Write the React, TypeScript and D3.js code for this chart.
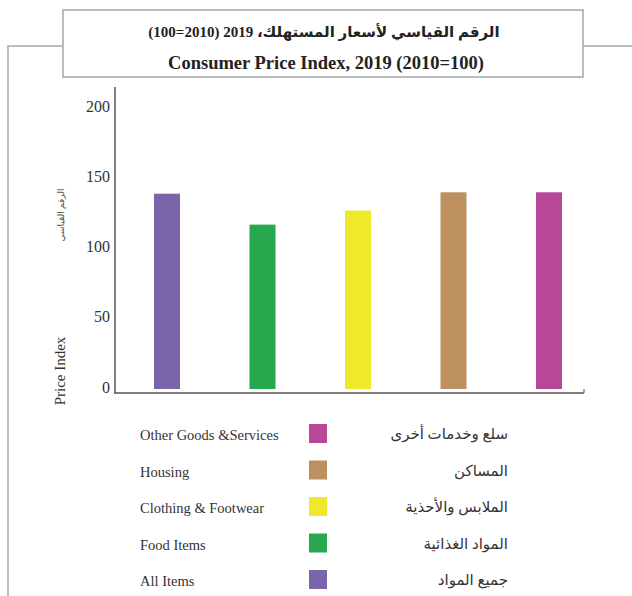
import * as d3 from "d3";

const categories = [
  "All Items",
  "Food Items",
  "Clothing & Footwear",
  "Housing",
  "Other Goods &Services",
];
const arabicNames = [
  "جميع المواد",
  "المواد الغذائية",
  "الملابس والأحذية",
  "المساكن",
  "سلع وخدمات أخرى",
];
const values = [139, 117, 127, 140, 140];
const colors = ["#7a65ab", "#27a84f", "#f0e92a", "#bd9060", "#b8479a"];
const yTicks = [0, 50, 100, 150, 200];

const serif = "'Liberation Serif', 'Times New Roman', 'DejaVu Sans', serif";

export default function App() {
  const width = 632;
  const height = 596;

  const x = d3.scalePoint<string>().domain(categories).range([167, 549]);
  const y = d3.scaleLinear().domain([0, 200]).range([389, 108]);
  const barWidth = 26;

  // legend is listed top-down in reverse category order
  const legendOrder = [...categories].reverse();
  const ly = d3.scalePoint<string>().domain(legendOrder).range([424, 570]);

  const frame = "#a3a8ad";

  return (
    <svg
      width={width}
      height={height}
      style={{ position: "absolute", left: 0, top: 0, background: "#fff" }}
      fontFamily={serif}
    >
      {/* outer frame */}
      <polyline
        points={`8,${height} 8,46 63,46`}
        fill="none"
        stroke={frame}
        strokeWidth={1.5}
      />
      <line x1={583} x2={632} y1={46} y2={46} stroke={frame} strokeWidth={1.5} />

      {/* title box */}
      <rect x={63} y={10} width={520} height={67} fill="#fff" stroke={frame} strokeWidth={1.5} />
      <text
        x={324}
        y={37}
        textAnchor="middle"
        direction="rtl"
        fontSize={15}
        fontWeight="700"
        fill="#222"
      >
        الرقم القياسي لأسعار المستهلك، 2019 (2010=100)
      </text>
      <text x={326} y={69} textAnchor="middle" fontSize={18.5} fontWeight="700" fill="#222">
        Consumer Price Index, 2019 (2010=100)
      </text>

      {/* axes */}
      <line x1={115} x2={115} y1={87} y2={393} stroke="#555" strokeWidth={1.5} />
      <line x1={114} x2={584} y1={393} y2={393} stroke="#555" strokeWidth={1.5} />
      <line x1={584} x2={584} y1={389} y2={393} stroke="#555" strokeWidth={1} />

      {yTicks.map((t) => (
        <text
          key={t}
          x={110}
          y={y(t)}
          textAnchor="end"
          dominantBaseline="middle"
          fontSize={16}
          fill="#333"
        >
          {t}
        </text>
      ))}

      <text
        transform="translate(62,371) rotate(-90)"
        textAnchor="middle"
        dominantBaseline="middle"
        fontSize={15}
        fill="#333"
      >
        Price Index
      </text>
      <text
        transform="translate(62,215) rotate(-90)"
        textAnchor="middle"
        dominantBaseline="middle"
        direction="rtl"
        fontSize={9}
        fill="#555"
      >
        الرقم القياسي
      </text>

      {/* bars */}
      {categories.map((c, i) => (
        <rect
          key={c}
          x={(x(c) ?? 0) - barWidth / 2}
          y={y(values[i])}
          width={barWidth}
          height={y(0) - y(values[i])}
          fill={colors[i]}
        />
      ))}

      {/* legend */}
      {legendOrder.map((c) => {
        const i = categories.indexOf(c);
        const top = ly(c) ?? 0;
        return (
          <g key={c}>
            <text x={140} y={top + 16} fontSize={14.5} fill="#333">
              {c}
            </text>
            <rect x={309} y={top} width={18} height={19} fill={colors[i]} />
            <text
              x={508}
              y={top + 15}
              textAnchor="end"
              fontSize={15}
              fill="#333"
            >
              {arabicNames[i]}
            </text>
          </g>
        );
      })}
    </svg>
  );
}
